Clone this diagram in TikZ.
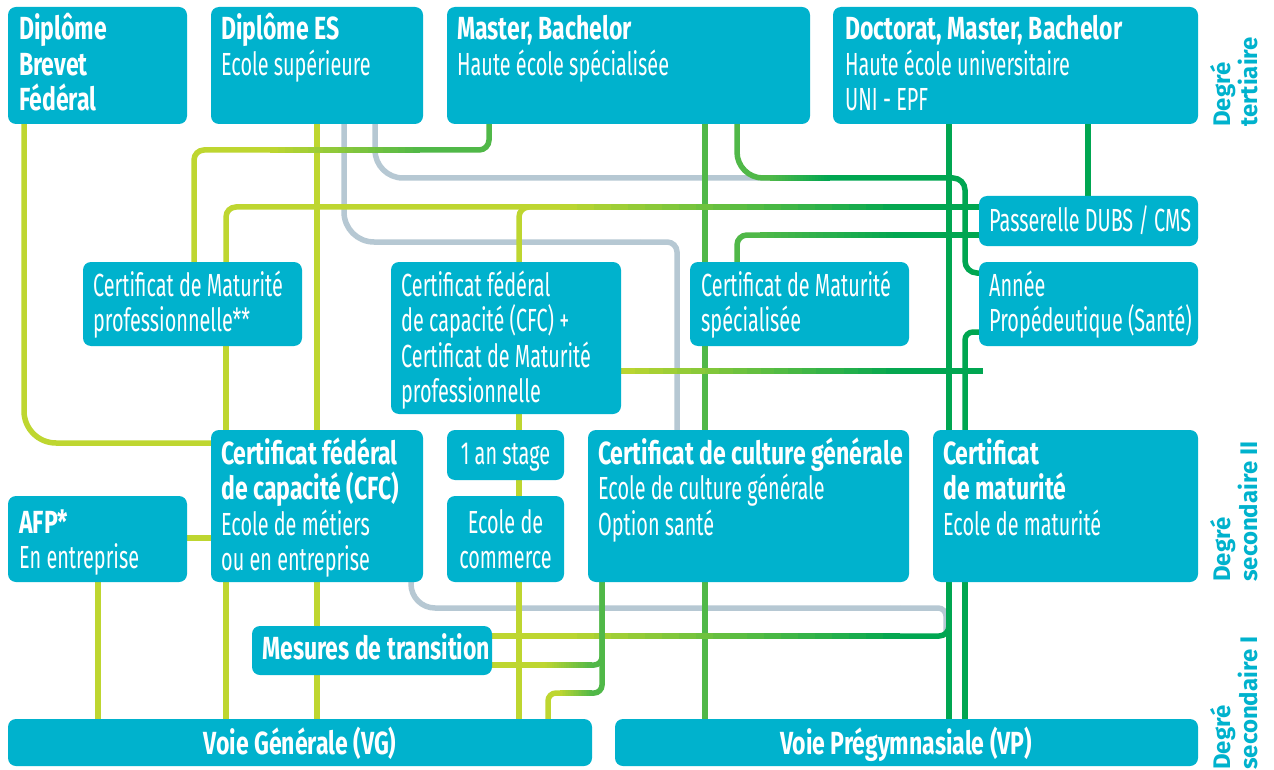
\documentclass[tikz,border=0pt]{standalone}
\usepackage{fontspec}
\setmainfont{Fira Sans}[FakeStretch=0.62]
\newfontfamily\bdf{Fira Sans}[FakeStretch=0.72]
\newfontfamily\labf{Fira Sans}
\usetikzlibrary{calc}
\pgfdeclarelayer{bg}
\pgfsetlayers{bg,main}
\definecolor{boxc}{RGB}{0,178,205}
\definecolor{lim}{RGB}{190,214,48}
\definecolor{mgr}{RGB}{80,184,72}
\definecolor{dgr}{RGB}{0,166,81}
\definecolor{gry}{RGB}{182,200,211}
\newcommand\bt[1]{{\bdf\bfseries\fontsize{32}{35.5}\selectfont #1}}
\newcommand\mkbx[5]{\node[box, minimum width={(#4)-(#2)}, minimum height={(#5)-(#3)}] (#1) at (#2,#3) {};}
\newcommand\boxtxt[3]{\node[txt] (#1) at (#2) {\parbox[t]{420pt}{\fontsize{32}{35.5}\selectfont\raggedright #3}};}
\newcommand\gradline[4]{%
  \foreach \k [evaluate=\k as \pp using int(100*(\k-0.5)/20)] in {1,...,20}{%
    \draw[conn, draw=#4!\pp!#3] ($(#1)!{(\k-1)/20}!(#2)$) -- ($(#1)!{min(1,(\k+0.5)/20)}!(#2)$);}}
\begin{document}
\begin{tikzpicture}[x=1pt,y=-1pt,
  box/.style={fill=boxc, rounded corners=8pt, anchor=north west, inner sep=0pt, outer sep=0pt},
  txt/.style={anchor=base west, inner sep=0pt, text=white},
  txtc/.style={anchor=base, inner sep=0pt, text=white, font=\fontsize{32}{35.5}\selectfont},
  lab/.style={text=boxc, inner sep=0pt, align=left, rotate=90, anchor=north west, font=\labf\bfseries\fontsize{24}{27}\selectfont},
  conn/.style={line width=5.5pt}]
\useasboundingbox (0,0) rectangle (1274,770);
% boxes
\mkbx{dbf}{8}{7}{187}{124}
\mkbx{des}{211}{7}{423}{124}
\mkbx{mb}{447}{7}{810}{124}
\mkbx{dmb}{833}{7}{1198}{124}
\mkbx{pas}{979}{196}{1198}{246}
\mkbx{cmp}{83}{262}{302}{346}
\mkbx{cfcm}{391}{262}{621}{414}
\mkbx{cms}{690}{262}{909}{346}
\mkbx{ap}{979}{262}{1198}{346}
\mkbx{cfc}{211}{430}{423}{582}
\mkbx{stage}{447}{430}{564}{480}
\mkbx{com}{447}{496}{564}{582}
\mkbx{ccg}{588}{430}{909}{582}
\mkbx{mat}{933}{430}{1198}{582}
\mkbx{afp}{8}{496}{187}{582}
\mkbx{mt}{252}{626}{492}{675}
\mkbx{vg}{8}{719}{592}{766}
\mkbx{vp}{615}{719}{1198}{766}
% texts
\boxtxt{dbf-t}{19,40}{\bt{Diplôme}\\\bt{Brevet}\\\bt{Fédéral}}
\boxtxt{des-t}{221,40}{\bt{Diplôme ES}\\Ecole supérieure}
\boxtxt{mb-t}{457,40}{\bt{Master, Bachelor}\\Haute école spécialisée}
\boxtxt{dmb-t}{845,40}{\bt{Doctorat, Master, Bachelor}\\Haute école universitaire\\UNI - EPF}
\boxtxt{pas-t}{989,231}{Passerelle DUBS / CMS}
\boxtxt{cmp-t}{93,296}{Certificat de Maturité\\professionnelle**}
\boxtxt{cfcm-t}{401,296}{Certificat fédéral\\de capacité (CFC) +\\Certificat de Maturité\\professionnelle}
\boxtxt{cms-t}{701,296}{Certificat de Maturité\\spécialisée}
\boxtxt{ap-t}{989,296}{Année\\Propédeutique (Santé)}
\boxtxt{cfc-t}{221,464}{\bt{Certificat fédéral}\\\bt{de capacité (CFC)}\\Ecole de métiers\\ou en entreprise}
\boxtxt{ccg-t}{598,464}{\bt{Certificat de culture générale}\\Ecole de culture générale\\Option santé}
\boxtxt{mat-t}{943,464}{\bt{Certificat}\\\bt{de maturité}\\Ecole de maturité}
\boxtxt{afp-t}{19,533}{\bt{AFP*}\\En entreprise}
\boxtxt{mt-t}{262,659}{\bt{Mesures de transition}}
\node[txtc] (stage-t) at (505.5,464) {1 an stage};
\node[txtc] (com-t) at (505.5,533) {\parbox[t]{117pt}{\centering Ecole de\\commerce}};
\node[txtc] (vg-t) at (300,754) {\bt{Voie Générale (VG)}};
\node[txtc] (vp-t) at (906,754) {\bt{Voie Prégymnasiale (VP)}};
% side labels
\node[lab] (l1) at (1210,127) {Degré\\tertiaire};
\node[lab] (l2) at (1210,582) {Degré\\secondaire II};
\node[lab] (l3) at (1210,770) {Degré\\secondaire I};
% coordinates for gradients
\coordinate (g6a) at (270,150); \coordinate (g6b) at (420,150);
\coordinate (g7a) at (560,207); \coordinate (g7b) at (900,207);
\coordinate (g14a) at (cfcm.east |- 0,371); \coordinate (g14b) at (900,371); \coordinate (e14) at (983,371);
\coordinate (g15a) at (560,636); \coordinate (g15b) at (900,636);
\coordinate (g16a) at (545,665); \coordinate (g16b) at (592,665);
\coordinate (g17a) at (592,693); \coordinate (g17b) at (560,693);
\coordinate (g21a) at (760,235); \coordinate (g21b) at (900,235);
\coordinate (g24a) at (770,178); \coordinate (g24b) at (830,178);
\coordinate (g28) at (640,242);
\coordinate (e29) at (775,178);
\coordinate (g30) at (900,608); \coordinate (e30) at (946,636);
\begin{pgfonlayer}{bg}
\fill[white] (0,0) rectangle (1274,770);
% gray
\draw[conn,gry,rounded corners=30pt] (344,0 |- des.south) |- (g28);
\draw[conn,gry,rounded corners=10pt] (g28) -| (677,0 |- ccg.north);
\draw[conn,gry,rounded corners=28pt] (375,0 |- des.south) |- (e29);
\draw[conn,gry,rounded corners=24pt] (411,0 |- cfc.south) |- (g30);
\draw[conn,gry,rounded corners=8pt] (g30) -| (e30);
% lime verticals
\draw[conn,lim,rounded corners=32pt] (24,0 |- dbf.south) |- (0,443 -| cfc.west);
\draw[conn,lim] (afp.east |- 0,538) -- (cfc.west |- 0,538);
\draw[conn,lim] (98,0 |- afp.south) -- (98,0 |- vg.north);
\draw[conn,lim] (226,0 |- cfc.south) -- (226,0 |- vg.north);
\draw[conn,lim] (226,0 |- cmp.south) -- (226,0 |- cfc.north);
\draw[conn,lim] (317,0 |- des.south) -- (317,0 |- cfc.north);
\draw[conn,lim] (317,0 |- cfc.south) -- (317,0 |- mt.north);
\draw[conn,lim] (317,0 |- mt.south) -- (317,0 |- vg.north);
\draw[conn,lim] (519,0 |- cfcm.south) -- (519,0 |- stage.north);
\draw[conn,lim] (519,0 |- stage.south) -- (519,0 |- com.north);
\draw[conn,lim] (519,0 |- com.south) -- (519,0 |- vg.north);
% green verticals
\draw[conn,mgr] (705,0 |- mb.south) -- (705,0 |- cms.north);
\draw[conn,mgr] (705,0 |- cms.south) -- (705,0 |- ccg.north);
\draw[conn,mgr] (705,0 |- ccg.south) -- (705,0 |- vp.north);
\draw[conn,dgr] (1088,0 |- dmb.south) -- (1088,0 |- pas.north);
\draw[conn,dgr] (949,0 |- dmb.south) -- (949,0 |- mat.north);
\draw[conn,dgr] (949,0 |- mat.south) -- (949,0 |- vp.north);
\draw[conn,dgr] (965,0 |- mat.south) -- (965,0 |- vp.north);
\draw[conn,dgr,rounded corners=8pt] (965,0 |- mat.north) |- (ap.west |- 0,332);
% Master -> Annee
\draw[conn,mgr,rounded corners=26pt] (737,0 |- mb.south) |- (g24a);
\gradline{g24a}{g24b}{mgr}{dgr}
\draw[conn,dgr,rounded corners=12pt] (g24b) -| (965,273) -- (ap.west |- 0,273);
% CMP -> Master
\draw[conn,lim,rounded corners=10pt] (194,0 |- cmp.north) |- (g6a);
\gradline{g6a}{g6b}{lim}{mgr}
\draw[conn,mgr,rounded corners=10pt] (g6b) -| (489,0 |- mb.south);
% CMP / CFC+CMP -> Passerelle
\draw[conn,lim,rounded corners=10pt] (226,0 |- cmp.north) |- (g7a);
\draw[conn,lim,rounded corners=10pt] (519,0 |- cfcm.north) |- (g7a);
\gradline{g7a}{g7b}{lim}{dgr}
\draw[conn,dgr] (g7b) -- (pas.west |- 0,207);
% CMS -> Passerelle
\draw[conn,mgr,rounded corners=10pt] (737,0 |- cms.north) |- (g21a);
\gradline{g21a}{g21b}{mgr}{dgr}
\draw[conn,dgr] (g21b) -- (pas.west |- 0,235);
% CFC+CMP right
\gradline{g14a}{g14b}{lim}{dgr}
\draw[conn,dgr] (g14b) -- (e14);
% Mesures -> maturite
\draw[conn,lim] (mt.east |- 0,636) -- (g15a);
\gradline{g15a}{g15b}{lim}{dgr}
\draw[conn,dgr,rounded corners=10pt] (g15b) -| (949,0 |- mat.south);
% CCG -> VG
\draw[conn,mgr,rounded corners=8pt] (602,0 |- ccg.south) |- (g17a);
\gradline{g17a}{g17b}{mgr}{lim}
\draw[conn,lim,rounded corners=8pt] (g17b) -| (548,0 |- vg.north);
% Mesures -> CCG
\draw[conn,lim] (mt.east |- 0,665) -- (g16a);
\gradline{g16a}{g16b}{lim}{mgr}
\draw[conn,mgr,rounded corners=8pt] (g16b) -| (602,0 |- ccg.south);
\end{pgfonlayer}
\end{tikzpicture}
\end{document}
